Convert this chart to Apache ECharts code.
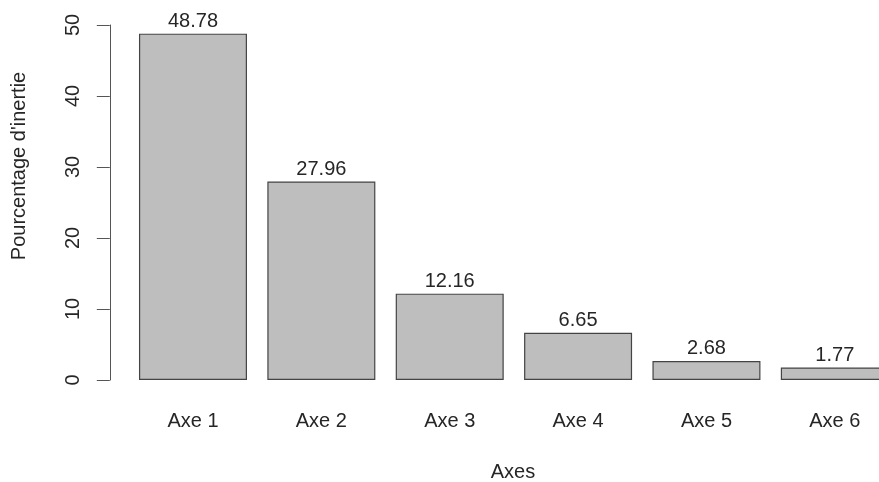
<!DOCTYPE html>
<html>
<head>
<meta charset="utf-8">
<script src="https://cdn.jsdelivr.net/npm/echarts@6/dist/echarts.min.js"></script>
<style>
html,body{margin:0;padding:0;background:#fff;overflow:hidden;width:879px;height:482px;}
#chart{width:899px;height:482px;}
</style>
</head>
<body>
<div id="chart"></div>
<script>
var categories = ['Axe 1', 'Axe 2', 'Axe 3', 'Axe 4', 'Axe 5', 'Axe 6'];
var values = [48.78, 27.96, 12.16, 6.65, 2.68, 1.77];
var yTicks = [0, 10, 20, 30, 40, 50];
var xTitle = 'Axes';
var yTitle = "Pourcentage d'inertie";

var font = '"Liberation Sans", Arial, Helvetica, sans-serif';
var txt = '#262626';
var chart = echarts.init(document.getElementById('chart'), null, {renderer: 'canvas'});
chart.setOption({
  animation: false,
  backgroundColor: '#ffffff',
  grid: {left: 128.8, right: 0, top: 25, bottom: 102, containLabel: false},
  xAxis: {
    type: 'category',
    data: categories,
    axisLine: {show: false},
    axisTick: {show: false},
    axisLabel: {margin: 31, fontSize: 20, color: txt, fontFamily: font}
  },
  yAxis: {
    type: 'value',
    min: yTicks[0],
    max: yTicks[yTicks.length - 1],
    interval: 10,
    offset: 19,
    splitLine: {show: false},
    axisLine: {show: true, lineStyle: {color: '#555', width: 1}},
    axisTick: {show: true, length: 13, lineStyle: {color: '#555', width: 1}},
    axisLabel: {rotate: 90, margin: 26, fontSize: 20, color: txt, fontFamily: font}
  },
  series: [{
    type: 'bar',
    data: values,
    barWidth: 108,
    itemStyle: {color: '#bebebe', borderColor: '#444', borderWidth: 1.2},
    label: {
      show: true, position: 'top', distance: 2,
      fontSize: 20, color: txt, fontFamily: font,
      formatter: function (p) { return p.value.toFixed(2); }
    }
  }],
  graphic: [
    {type: 'text', x: 513, y: 472,
     style: {text: xTitle, fill: txt, font: '20px ' + font, textAlign: 'center', textVerticalAlign: 'middle'}},
    {type: 'text', x: 19, y: 166, rotation: Math.PI / 2,
     style: {text: yTitle, fill: txt, font: '20px ' + font, textAlign: 'center', textVerticalAlign: 'middle'}}
  ]
});
</script>
</body>
</html>
